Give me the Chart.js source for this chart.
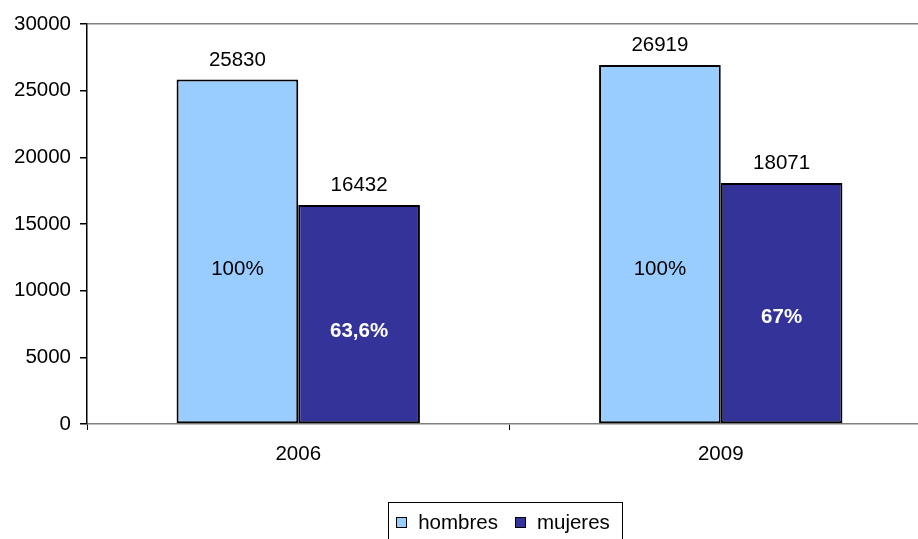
<!DOCTYPE html>
<html><head><meta charset="utf-8">
<script src="https://cdn.jsdelivr.net/npm/chart.js@4"></script>
<style>html,body{margin:0;padding:0;overflow:hidden;background:#fff;width:918px;height:539px}
canvas{display:block}</style></head>
<body><canvas id="c" width="940" height="560" style="width:940px;height:560px"></canvas>
<script>
const categories = ['2006', '2009'];
const hombres = [25830, 26919];
const mujeres = [16432, 18071];
const pctHombres = ['100%', '100%'];
const pctMujeres = ['63,6%', '67%'];
const seriesNames = ['hombres', 'mujeres'];
const yMin = 0, yMax = 30000, yStep = 5000;

const FONT = "'Liberation Sans', Arial, sans-serif";
const FS = 20.5;
const colors = ['#99CCFF', '#333399'];

const labelsPlugin = {
  id: 'barLabels',
  afterDatasetsDraw(chart) {
    const ctx = chart.ctx;
    const y = chart.scales.y;
    const pct = [pctHombres, pctMujeres];
    const pctAnchor = [[11175, 11175], [6525, 7575]];
    ctx.save();
    ctx.textAlign = 'center';
    ctx.textBaseline = 'alphabetic';
    chart.data.datasets.forEach((ds, d) => {
      const meta = chart.getDatasetMeta(d);
      meta.data.forEach((el, i) => {
        ctx.font = `${FS}px ${FONT}`;
        ctx.fillStyle = '#000';
        ctx.fillText(String(ds.data[i]), el.x, el.y - 14);
        if (d === 0) { ctx.font = `${FS}px ${FONT}`; ctx.fillStyle = '#000'; }
        else { ctx.font = `bold ${FS}px ${FONT}`; ctx.fillStyle = '#fff'; }
        ctx.fillText(pct[d][i], el.x, y.getPixelForValue(pctAnchor[d][i]));
      });
    });
    ctx.restore();
  }
};

const legendPlugin = {
  id: 'boxLegend',
  afterDraw(chart) {
    const ctx = chart.ctx;
    ctx.save();
    ctx.font = `${FS}px ${FONT}`;
    const box = 11, gapText = 11, gapItem = 17;
    const widths = seriesNames.map(n => box + gapText + ctx.measureText(n).width);
    const total = widths.reduce((a, b) => a + b, 0) + gapItem * (seriesNames.length - 1);
    const cx = 503, cy = 522;
    let x = cx - total / 2;
    ctx.strokeStyle = '#000';
    ctx.lineWidth = 1;
    ctx.strokeRect(Math.round(x - 8) + 0.5, 502.5, Math.round(total + 20), 60);
    ctx.textBaseline = 'middle';
    ctx.textAlign = 'left';
    seriesNames.forEach((n, i) => {
      ctx.fillStyle = colors[i];
      ctx.fillRect(Math.round(x), cy - 5, box, box);
      ctx.strokeStyle = '#000';
      ctx.strokeRect(Math.round(x) + 0.5, cy - 5 + 0.5, box - 1, box - 1);
      ctx.fillStyle = '#000';
      ctx.fillText(n, x + box + gapText, cy + 1);
      x += widths[i] + gapItem;
    });
    ctx.restore();
  }
};

new Chart(document.getElementById('c'), {
  type: 'bar',
  data: {
    labels: categories,
    datasets: [
      { label: seriesNames[0], data: hombres, backgroundColor: colors[0], borderColor: '#000', borderWidth: 2, borderSkipped: false },
      { label: seriesNames[1], data: mujeres, backgroundColor: colors[1], borderColor: '#000', borderWidth: 2, borderSkipped: false }
    ]
  },
  options: {
    responsive: false,
    devicePixelRatio: 1,
    animation: false,
    layout: { padding: { top: 24, right: 8, bottom: 0, left: 0 } },
    datasets: { bar: { barPercentage: 1, categoryPercentage: 0.576 } },
    plugins: { legend: { display: false }, tooltip: { enabled: false } },
    scales: {
      x: {
        offset: true,
        grid: { offset: true, drawOnChartArea: false, drawTicks: true, tickLength: 6, tickColor: '#000' },
        border: { display: true, color: '#808080', width: 1.5 },
        ticks: { color: '#000', font: { family: FONT, size: FS }, padding: 12 },
        afterFit(s) { s.height = 136; }
      },
      y: {
        min: yMin, max: yMax,
        ticks: { stepSize: yStep, color: '#000', font: { family: FONT, size: FS }, padding: 9, callback: v => String(v) },
        grid: {
          drawOnChartArea: true, drawTicks: true, tickLength: 7, tickColor: '#000', lineWidth: 1.5,
          color: c => (c.tick && c.tick.value === yMax) ? '#808080' : 'rgba(0,0,0,0)'
        },
        border: { display: true, color: '#000', width: 1.5 },
        afterFit(s) { s.width = 87; }
      }
    }
  },
  plugins: [labelsPlugin, legendPlugin]
});
</script>
</body></html>
